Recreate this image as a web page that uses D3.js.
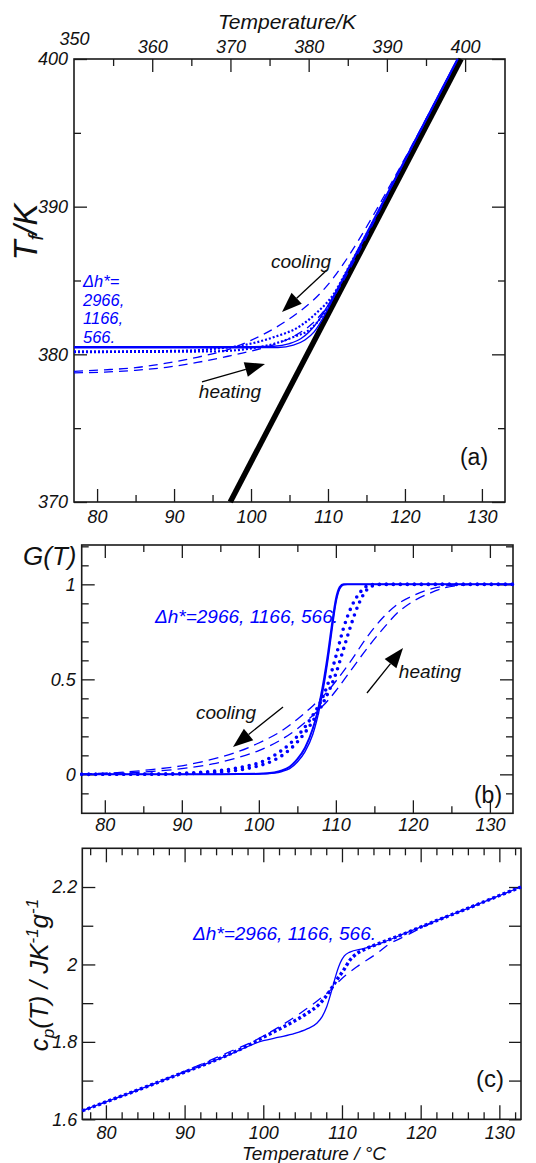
<!DOCTYPE html>
<html>
<head>
<meta charset="utf-8">
<script src="https://cdn.jsdelivr.net/npm/d3@7"></script>
<style>
  body { margin: 0; background: #fff; }
  svg { display: block; }
</style>
</head>
<body>
<svg id="chart" width="536" height="1163"></svg>
<script>
// ---------- tick values and labels ----------
const tempMajorC = [80, 90, 100, 110, 120, 130];
const tempMinorC5 = [85, 95, 105, 115, 125];
const tempMinorC2 = [78, 82, 84, 86, 88, 92, 94, 96, 98, 102, 104, 106, 108, 112, 114, 116, 118, 122, 124, 126, 128, 132];
const tempMajorK = [350, 360, 370, 380, 390, 400];
const tempMinorK = [355, 365, 375, 385, 395];
const tfMajor = [370, 380, 390, 400];
const tfMinor = [375, 385, 395];
const gMajor = [0, 0.5, 1];
const gMinor = [-0.1, 0.1, 0.2, 0.3, 0.4, 0.6, 0.7, 0.8, 0.9, 1.1, 1.2];
const cpMajor = [1.6, 1.8, 2, 2.2];
const cpMinor = [1.7, 1.9, 2.1];
const dhLabel = "\u0394h*=2966, 1166, 566.";
const dhLines = ["\u0394h*=", "2966,", "1166,", "566."];

// ---------- (a) fictive temperature Tf [K] vs T [°C] ----------
const equilibriumLine = [[97.3, 370], [127.3, 400]];
const tfSolidCool = [[77,380.52],[95,380.52],[100,380.52],[103,380.55],[105,380.73],[106.5,381.07],[107.5,381.5],[108.6,382.17],[109.6,382.97],[110.5,383.75],[111.5,384.67],[113,386.13],[116,389.15],[120,393.15],[124,397.15],[126.85,400]];
const tfSolidHeat = [[77,380.45],[100,380.45],[103.5,380.46],[105.5,380.62],[107,380.97],[108.2,381.52],[109.2,382.32],[110.2,383.3],[111.2,384.32],[112.5,385.63],[116,389.15],[120,393.15],[124,397.15],[126.85,400]];
const tfDotCool = [[77,380.2],[90,380.23],[95,380.36],[99.4,380.66],[103,381.17],[106.4,381.92],[108.5,382.8],[110.7,384.05],[112.5,385.72],[115,388.17],[120,393.15],[126.85,400]];
const tfDotHeat = [[77,380.15],[95,380.2],[100,380.4],[103.3,380.76],[105.5,381.17],[107.7,381.7],[109,382.42],[110,383.2],[111,384.17],[112.5,385.65],[116,389.15],[120,393.15],[126.85,400]];
const tfDashCool = [[77,378.85],[81,378.95],[85,379.1],[89,379.4],[93,379.8],[97,380.32],[100,380.95],[103,381.75],[106,382.78],[108,383.62],[110,384.72],[112,386.12],[114,387.75],[116,389.52],[118,391.38],[120,393.27],[122,395.2],[124,397.17],[126.85,400]];
const tfDashHeat = [[77,378.75],[81,378.8],[85,378.92],[89,379.12],[93,379.45],[97,379.87],[100,380.22],[103,380.65],[106,381.35],[108,382.1],[110,383.3],[112,384.98],[114,386.92],[116,388.98],[118,391.1],[120,393.13],[124,397.15],[126.85,400]];

// ---------- (b) G(T) ----------
const gSolidCool = [[77,0],[95,0],[100,0.003],[102,0.01],[103,0.02],[104,0.04],[105,0.08],[106,0.14],[107,0.24],[107.5,0.31],[108,0.40],[108.5,0.51],[109,0.64],[109.5,0.79],[110,0.92],[110.5,0.985],[111,1],[133,1]];
const gSolidHeat = [[77,0],[98,0],[100,0.002],[102,0.007],[103,0.015],[104,0.03],[105,0.065],[106,0.12],[107,0.21],[107.5,0.28],[108,0.37],[108.5,0.48],[109,0.61],[109.5,0.76],[110,0.9],[110.5,0.975],[111,0.998],[111.5,1],[133,1]];
const gDotCool = [[77,0],[88,0.002],[92,0.01],[95,0.02],[98,0.04],[100,0.06],[102,0.1],[104,0.16],[106,0.25],[107,0.31],[108,0.38],[109,0.48],[110,0.62],[111,0.77],[112,0.88],[113,0.95],[114,0.99],[115,1],[133,1]];
const gDotHeat = [[77,0],[88,0.001],[92,0.005],[95,0.012],[98,0.027],[100,0.045],[102,0.075],[104,0.13],[106,0.22],[107,0.28],[108,0.35],[109,0.43],[110,0.53],[111,0.66],[112,0.79],[113,0.9],[114,0.97],[115,0.995],[116,1],[133,1]];
const gDashCool = [[77,0],[78,0.003],[82,0.01],[86,0.025],[90,0.045],[94,0.08],[97,0.115],[100,0.165],[103,0.23],[105,0.29],[107,0.36],[109,0.44],[110,0.49],[112,0.6],[114,0.72],[116,0.82],[118,0.895],[120,0.94],[122,0.972],[124,0.99],[126,0.998],[128,1],[133,1]];
const gDashHeat = [[77,0],[78,0.002],[82,0.006],[86,0.015],[90,0.03],[94,0.055],[97,0.085],[100,0.125],[103,0.185],[105,0.24],[107,0.31],[109,0.39],[110,0.44],[112,0.55],[114,0.66],[116,0.76],[118,0.85],[120,0.91],[122,0.95],[124,0.98],[126,0.995],[128,1],[133,1]];

// ---------- (c) heat capacity cp [J K^-1 g^-1] ----------
const cpSolid = [[77,1.622],[80,1.645],[85,1.683],[90,1.722],[95,1.761],[100,1.803],[102,1.812],[104,1.822],[105.5,1.833],[106.8,1.848],[107.5,1.866],[108.05,1.89],[108.7,1.933],[109.3,1.977],[109.8,2.005],[110.3,2.022],[111,2.032],[112.7,2.041],[114.8,2.054],[118,2.08],[122,2.113],[126,2.145],[130,2.178],[132.75,2.2]];
const cpDot = [[77,1.622],[80,1.645],[85,1.683],[90,1.722],[95,1.762],[98,1.79],[100,1.812],[102.5,1.838],[105.5,1.873],[107.2,1.899],[108.5,1.933],[109.3,1.959],[110.2,1.985],[111,2.011],[111.9,2.028],[113,2.04],[115.2,2.058],[118,2.08],[122,2.113],[126,2.145],[130,2.178],[132.75,2.2]];
const cpDash = [[77,1.622],[80,1.645],[85,1.683],[90,1.724],[93,1.75],[96,1.777],[98.3,1.797],[101.7,1.835],[104.7,1.874],[106.8,1.905],[108.5,1.933],[109.7,1.958],[111.9,1.994],[114.4,2.028],[116.1,2.054],[117.5,2.068],[122,2.113],[126,2.145],[130,2.178],[132.75,2.2]];

// ---------- annotation arrows (data units: tail then tip) ----------
const arrowCoolA = [[109.87, 385.71], [104.03, 382.87]];
const arrowHeatA = [[93.63, 378.13], [101.82, 379.35]];
const arrowHeatB = [[114.04, 0.428], [118.72, 0.665]];
const arrowCoolB = [[103.14, 0.355], [96.64, 0.144]];

// ---------- drawing ----------
const FONT = "'Liberation Sans', Arial, Helvetica, sans-serif";
const BLUE = "#0000ff";
const INK = "#1a1a1a";
const svg = d3.select("#chart");

const xA = d3.scaleLinear([77, 133], [74, 505]);
const xAK = d3.scaleLinear([350, 405.1], [74, 505]);
const yA = d3.scaleLinear([370, 400], [502, 59]);
const xB = d3.scaleLinear([77, 133], [81.7, 513]);
const yB = d3.scaleLinear([-0.205, 1.207], [813.3, 545]);
const xC = d3.scaleLinear([77, 132.75], [82.3, 521]);
const yC = d3.scaleLinear([1.6, 2.3], [1119.3, 848.3]);

function frame(x, y) {
  svg.append("rect")
    .attr("x", x.range()[0]).attr("y", y.range()[1])
    .attr("width", x.range()[1] - x.range()[0])
    .attr("height", y.range()[0] - y.range()[1])
    .attr("fill", "none").attr("stroke", INK).attr("stroke-width", 1.6);
}

function ticks(axisFn, scale, values, size, translate, fmt, pad) {
  const a = axisFn(scale).tickValues(values).tickSize(-size).tickSizeOuter(0)
    .tickPadding(pad || 0).tickFormat(fmt || (() => ""));
  const g = svg.append("g").attr("transform", translate).call(a);
  g.select(".domain").remove();
  g.attr("font-size", 18).attr("font-family", FONT).attr("font-style", "italic");
  g.selectAll("line").attr("stroke", INK).attr("stroke-width", 1.3);
  g.selectAll("text").attr("fill", "#111");
  return g;
}

function curve(x, y, data, style) {
  const line = d3.line().x(d => x(d[0])).y(d => y(d[1])).curve(d3.curveMonotoneX);
  const p = svg.append("path").datum(data).attr("d", line)
    .attr("fill", "none").attr("stroke", style.color || BLUE)
    .attr("stroke-width", style.width || 1.3);
  if (style.dash) p.attr("stroke-dasharray", style.dash);
  if (style.cap) p.attr("stroke-linecap", style.cap);
  return p;
}

function arrow(x, y, pts, headLen, headW) {
  const x0 = x(pts[0][0]), y0 = y(pts[0][1]);
  const x1 = x(pts[1][0]), y1 = y(pts[1][1]);
  const L = Math.hypot(x1 - x0, y1 - y0), ux = (x1 - x0) / L, uy = (y1 - y0) / L;
  const bx = x1 - ux * headLen, by = y1 - uy * headLen;
  svg.append("line").attr("x1", x0).attr("y1", y0).attr("x2", bx).attr("y2", by)
    .attr("stroke", "#000").attr("stroke-width", 1.3);
  svg.append("path")
    .attr("d", `M${x1},${y1}L${bx - uy * headW / 2},${by + ux * headW / 2}L${bx + uy * headW / 2},${by - ux * headW / 2}Z`)
    .attr("fill", "#000");
}

function label(x, y, text, opts) {
  return svg.append("text").attr("x", x).attr("y", y).text(text)
    .attr("font-family", FONT).attr("font-size", opts.size || 18)
    .attr("font-style", opts.italic === false ? "normal" : "italic")
    .attr("fill", opts.color || "#111")
    .attr("text-anchor", opts.anchor || "start");
}

const fmtNum = d => String(d);

// ===== panel (a) =====
const topA = yA.range()[1], botA = yA.range()[0], leftA = xA.range()[0], rightA = xA.range()[1];
frame(xA, yA);
ticks(d3.axisBottom, xA, tempMajorC, 13, `translate(0,${botA})`, fmtNum, 8);
ticks(d3.axisBottom, xA, tempMinorC5, 7, `translate(0,${botA})`);
ticks(d3.axisTop, xAK, tempMajorK.slice(1), 13, `translate(0,${topA})`, fmtNum, 6);
ticks(d3.axisTop, xAK, tempMinorK, 7, `translate(0,${topA})`);
// the corner label sits a little higher, clear of the left "400"
ticks(d3.axisTop, xAK, tempMajorK.slice(0, 1), 0, `translate(0,${topA})`, fmtNum, 14);
ticks(d3.axisLeft, yA, tfMajor, 13, `translate(${leftA},0)`, fmtNum, 6);
ticks(d3.axisLeft, yA, tfMinor, 7, `translate(${leftA},0)`);
ticks(d3.axisRight, yA, tfMajor, 13, `translate(${rightA},0)`);
ticks(d3.axisRight, yA, tfMinor, 7, `translate(${rightA},0)`);

curve(xA, yA, equilibriumLine, { color: "#000", width: 5.5 });
curve(xA, yA, tfDashCool, { dash: "9 6" });
curve(xA, yA, tfDashHeat, { dash: "9 6" });
curve(xA, yA, tfDotCool, { dash: "2 2", width: 2.2 });
curve(xA, yA, tfDotHeat, { dash: "2 2", width: 2.2 });
curve(xA, yA, tfSolidCool, { width: 1.4 });
curve(xA, yA, tfSolidHeat, { width: 1.4 });

arrow(xA, yA, arrowCoolA, 20, 15);
arrow(xA, yA, arrowHeatA, 20, 15);
label(301, 268, "cooling", { size: 19, anchor: "middle" });
label(230, 398, "heating", { size: 19, anchor: "middle" });
dhLines.forEach((s, i) => label(83, 287 + i * 18.5, s, { size: 16.5, color: BLUE }));
label(474, 465, "(a)", { size: 23, italic: false, anchor: "middle" });

label(287, 29, "Temperature/K", { size: 21, anchor: "middle" });
svg.append("text")
  .attr("transform", "translate(37,232) rotate(-90)")
  .attr("text-anchor", "middle").attr("font-family", FONT).attr("font-style", "italic")
  .attr("font-size", 33).attr("fill", "#111")
  .call(t => {
    t.append("tspan").text("T");
    t.append("tspan").attr("font-size", 21).attr("dy", 6).text("f");
    t.append("tspan").attr("dy", -6).text("/K");
  });

// ===== panel (b) =====
const topB = yB.range()[1], botB = yB.range()[0], leftB = xB.range()[0], rightB = xB.range()[1];
frame(xB, yB);
ticks(d3.axisBottom, xB, tempMajorC, 13, `translate(0,${botB})`, fmtNum, 5);
ticks(d3.axisBottom, xB, tempMinorC5, 7, `translate(0,${botB})`);
ticks(d3.axisTop, xB, tempMajorC, 13, `translate(0,${topB})`);
ticks(d3.axisTop, xB, tempMinorC5, 7, `translate(0,${topB})`);
ticks(d3.axisLeft, yB, gMajor, 13, `translate(${leftB},0)`, fmtNum, 6);
ticks(d3.axisLeft, yB, gMinor, 7, `translate(${leftB},0)`);
ticks(d3.axisRight, yB, gMajor, 13, `translate(${rightB},0)`);
ticks(d3.axisRight, yB, gMinor, 7, `translate(${rightB},0)`);

curve(xB, yB, gDashCool, { dash: "10 6" });
curve(xB, yB, gDashHeat, { dash: "10 6" });
curve(xB, yB, gDotCool, { dash: "0 7", width: 3.6, cap: "round" });
curve(xB, yB, gDotHeat, { dash: "0 7", width: 3.6, cap: "round" });
curve(xB, yB, gSolidCool, { width: 2 });
curve(xB, yB, gSolidHeat, { width: 1.4 });

arrow(xB, yB, arrowHeatB, 20, 15);
arrow(xB, yB, arrowCoolB, 20, 15);
label(430, 678, "heating", { size: 19, anchor: "middle" });
label(226, 719, "cooling", { size: 19, anchor: "middle" });
label(155, 623, dhLabel, { size: 19, color: BLUE });
label(488, 803, "(b)", { size: 23, italic: false, anchor: "middle" });
label(23, 565, "G(T)", { size: 26 });

// ===== panel (c) =====
const topC = yC.range()[1], botC = yC.range()[0], leftC = xC.range()[0], rightC = xC.range()[1];
frame(xC, yC);
ticks(d3.axisBottom, xC, tempMajorC, 14, `translate(0,${botC})`, fmtNum, 7);
ticks(d3.axisBottom, xC, tempMinorC2, 7, `translate(0,${botC})`);
ticks(d3.axisTop, xC, tempMajorC, 14, `translate(0,${topC})`);
ticks(d3.axisTop, xC, tempMinorC2, 7, `translate(0,${topC})`);
ticks(d3.axisLeft, yC, cpMajor, 13, `translate(${leftC},0)`, fmtNum, 5);
ticks(d3.axisLeft, yC, cpMinor, 11, `translate(${leftC},0)`);
ticks(d3.axisRight, yC, cpMajor, 12, `translate(${rightC},0)`);
ticks(d3.axisRight, yC, cpMinor, 12, `translate(${rightC},0)`);

curve(xC, yC, cpDash, { dash: "10 7" });
curve(xC, yC, cpSolid, { width: 1.3 });
curve(xC, yC, cpDot, { dash: "3 2.6", width: 3.4 });

label(193, 940, dhLabel, { size: 19, color: BLUE });
label(490, 1087, "(c)", { size: 24, italic: false, anchor: "middle" });
label(314, 1160, "Temperature / \u00b0C", { size: 19, anchor: "middle" });
svg.append("text")
  .attr("transform", "translate(48,975) rotate(-90)")
  .attr("text-anchor", "middle").attr("font-family", FONT).attr("font-style", "italic")
  .attr("font-size", 26).attr("fill", "#111")
  .call(t => {
    t.append("tspan").text("c");
    t.append("tspan").attr("font-size", 17).attr("dy", 6).text("p");
    t.append("tspan").attr("dy", -6).text("(T) / JK");
    t.append("tspan").attr("font-size", 17).attr("dy", -10).text("-1");
    t.append("tspan").attr("dy", 10).text("g");
    t.append("tspan").attr("font-size", 17).attr("dy", -10).text("-1");
  });
</script>
</body>
</html>
